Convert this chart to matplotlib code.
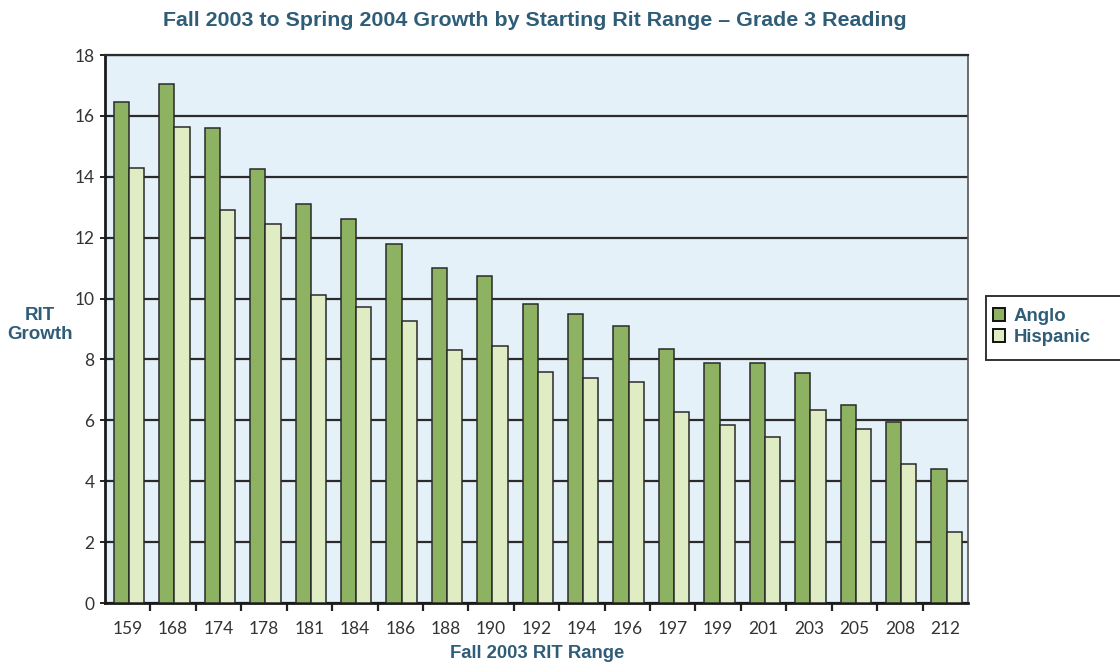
import matplotlib
matplotlib.use("Agg")
import matplotlib.pyplot as plt
import numpy as np
from matplotlib.patches import Patch, Rectangle

categories = ["159", "168", "174", "178", "181", "184", "186", "188", "190", "192",
              "194", "196", "197", "199", "201", "203", "205", "208", "212"]
anglo = [16.45, 17.05, 15.6, 14.25, 13.1, 12.6, 11.8, 11.0, 10.75, 9.82,
         9.48, 9.1, 8.33, 7.87, 7.87, 7.55, 6.5, 5.95, 4.4]
hispanic = [14.3, 15.65, 12.92, 12.45, 10.13, 9.73, 9.26, 8.31, 8.44, 7.59,
            7.38, 7.27, 6.29, 5.84, 5.46, 6.34, 5.72, 4.55, 2.32]
series_names = ["Anglo", "Hispanic"]
yticks = [0, 2, 4, 6, 8, 10, 12, 14, 16, 18]

title_color = "#2f5d78"
anglo_color = "#8db362"
hisp_color = "#e0ecc3"
bg_color = "#e4f1f8"

plt.rcParams['font.family'] = ['Liberation Sans', 'DejaVu Sans']

fig = plt.figure(figsize=(11.2, 6.63), dpi=100)
ax = fig.add_axes([105/1120, 1 - 603/663, (968-105)/1120, (603-55)/663])
ax.set_facecolor(bg_color)

x = np.arange(len(categories))
w = 0.335
ax.bar(x - w/2 + 0.03, anglo, width=w, color=anglo_color, edgecolor="#2a2a2a", linewidth=1.1, zorder=3)
ax.bar(x + w/2 + 0.03, hispanic, width=w, color=hisp_color, edgecolor="#2a2a2a", linewidth=1.1, zorder=3)

ax.set_xlim(-0.5, len(categories) - 0.5)
ax.set_ylim(0, 18)
ax.set_yticks(yticks)
ax.yaxis.grid(True, color="#2b2b2b", linewidth=1.6, zorder=1)
ax.set_axisbelow(True)

tick_font = {'family': ['Lato', 'DejaVu Sans'], 'size': 12.5}
ax.set_xticks(x)
ax.set_xticklabels(categories, fontdict=tick_font, color="#333333")
ax.set_yticklabels([str(v) for v in yticks], fontdict=tick_font, color="#333333")
ax.tick_params(axis='x', which='major', length=0, pad=13)
ax.set_xticks(np.arange(0.5, len(categories) - 0.5, 1), minor=True)
ax.tick_params(axis='x', which='minor', length=6, width=1.6, direction='out', color="#222222")
ax.tick_params(axis='y', length=7, width=1.4, direction='inout', color="#222222", pad=4)

for s in ['left', 'bottom']:
    ax.spines[s].set_linewidth(2.0)
    ax.spines[s].set_color("#1a1a1a")
ax.spines['top'].set_linewidth(1.6)
ax.spines['top'].set_color("#2b2b2b")
ax.spines['right'].set_linewidth(1.2)
ax.spines['right'].set_color("#555555")

fig.text(535/1120, 1 - 20/663, "Fall 2003 to Spring 2004 Growth by Starting Rit Range \u2013 Grade 3 Reading",
         ha='center', va='center', fontsize=15.4, fontweight='bold', color=title_color)
fig.text(537/1120, 1 - 654/663, "Fall 2003 RIT Range", ha='center', va='center',
         fontsize=13.3, fontweight='bold', color=title_color)
fig.text(40/1120, 1 - 325/663, "RIT\nGrowth", ha='center', va='center',
         fontsize=13.5, fontweight='bold', color=title_color, linespacing=1.2)

# legend frame (extends past the right edge as in the reference)
fig.patches.append(Rectangle((986/1120, 1 - 360/663), 140/1120, 64/663,
                             transform=fig.transFigure, facecolor='white',
                             edgecolor='#333333', linewidth=1.4, zorder=1))
handles = [Patch(facecolor=anglo_color, edgecolor="#111111", linewidth=1.4),
           Patch(facecolor=hisp_color, edgecolor="#111111", linewidth=1.4)]
leg = fig.legend(handles, series_names, loc='upper left',
                 bbox_to_anchor=(993/1120, 1 - 308/663), frameon=False,
                 prop={'weight': 'bold', 'size': 13.4}, handlelength=0.65, handleheight=0.65,
                 handletextpad=0.45, labelspacing=0.22, borderpad=0, borderaxespad=0)
for t in leg.get_texts():
    t.set_color(title_color)

fig.savefig("out.png", dpi=100)
